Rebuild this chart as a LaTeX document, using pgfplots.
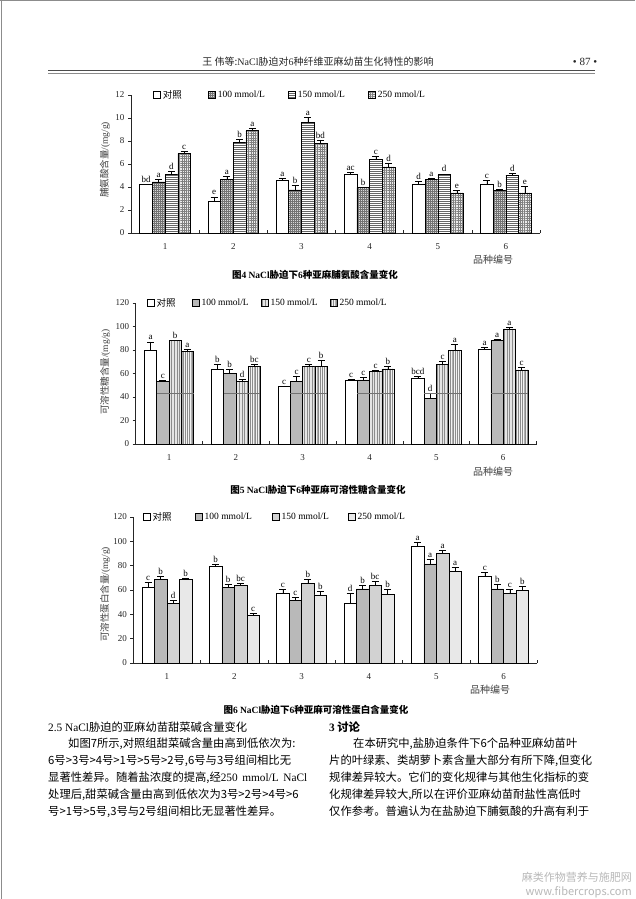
\documentclass[border=0pt]{standalone}
\usepackage{fontspec}
\setmainfont{Liberation Serif}
\newfontfamily\cjk{Noto Sans CJK SC}
\usepackage{pgfplots}
\usepackage{pgfplotstable}
\pgfplotsset{compat=1.18}
\usetikzlibrary{patterns.meta}
\XeTeXlinebreaklocale "zh"
\XeTeXlinebreakskip=0pt plus 3pt minus 0.5pt

% Fig 4: proline (mg/g)
\pgfplotstableread{
x   c1   e1   l1  c2   e2   l2 c3   e3   l3 c4   e4   l4
0.5 4.2  0.02 bd  4.45 0.2  a  5.1  0.3  d  6.9  0.2  c
1.5 2.8  0.35 e   4.65 0.25 a  7.9  0.25 b  8.9  0.2  a
2.5 4.55 0.2  a   3.75 0.4  b  9.6  0.5  a  7.8  0.3  bd
3.5 5.15 0.15 ac  3.95 0.05 b  6.4  0.3  c  5.75 0.35 d
4.5 4.2  0.3  d   4.65 0.15 a  5.1  0.05 d  3.5  0.2  e
5.5 4.25 0.3  c   3.7  0.1  b  5.05 0.15 d  3.5  0.55 e
}\tA
% Fig 5: soluble sugar (mg/g)
\pgfplotstableread{
x   c1   e1  l1  c2   e2  l2 c3   e3  l3 c4  e4  l4
0.5 80   7   a   53   1   c  88   0.3 b  79  1.5 a
1.5 64   3.5 b   60   4   b  53   2   d  66  1.5 bc
2.5 49   0.5 c   53   5   c  66   2   c  66  5   b
3.5 54   1   c   54.5 2   c  62   1   c  64  2.5 b
4.5 56   2   bcd 39   4.5 d  67.5 3   c  80  4.5 a
5.5 80.5 2   a   88   1.5 a  98   1   a  63  2   c
}\tB
% Fig 6: soluble protein (mg/g)
\pgfplotstableread{
x   c1   e1  l1 c2   e2  l2 c3   e3  l3 c4   e4  l4
0.5 62.5 3.5 c  69   2.5 b  48.8 2.5 d  68.5 1.5 b
1.5 79.5 2   b  62   3   b  63.5 2   bc 39   2   c
2.5 57   3.5 c  51.5 2.5 c  65.5 3.5 b  56   3   b
3.5 49.5 7.5 d  61   3   b  63.5 3.5 bc 56.5 4   b
4.5 96   3.5 a  81.5 3.5 a  90   2.5 a  75.5 3   a
5.5 71   3.5 c  61   4   b  57.5 3.5 c  60   3   b
}\tC

\pgfplotsset{
 pagechart/.style={
  scale only axis, anchor=south west, clip=false,
  axis x line*=bottom, axis y line*=left,
  axis line style={line width=0.7pt, black!85},
  ybar=0pt, xmin=0, xmax=6, ymin=0, enlargelimits=false,
  xtick={0,...,6}, x tick label as interval, xticklabels={1,2,3,4,5,6},
  tick align=outside, major tick length=3pt,
  xtick style={yshift=3pt, black!85, line width=0.6pt},
  ytick style={black!85, line width=0.6pt},
  tick label style={font=\fontsize{9}{9}\selectfont, black!85},
  xticklabel style={yshift=-4pt},
  /pgf/number format/assume math mode=true,
  legend style={draw=none, fill=none, legend columns=4, anchor=west,
    font=\fontsize{9.5}{10}\selectfont, column sep=0pt, row sep=0pt, inner sep=0pt,
    nodes={inner xsep=2pt, inner ysep=0pt}},
  legend cell align=left,
  ylabel style={anchor=center, font=\cjk\fontsize{9.5}{10}\selectfont, black!75},
 },
 sq/.style={legend image code/.code={\draw[##1] (0pt,-3.5pt) rectangle (7pt,3.5pt);}},
 eb/.style={error bars/.cd, y dir=plus, y explicit,
   error bar style={black, line width=0.5pt},
   error mark options={rotate=90, mark size=3.5pt, black, line width=0.5pt}},
 lab/.style={draw=none, fill=none, forget plot, nodes near coords, point meta=explicit symbolic,
   every node near coord/.append style={font=\fontsize{9}{9}\selectfont, inner sep=1.5pt, black}},
}

\newcommand\bars[3]{%
 \addplot[s1, sq, bar shift=-#3, eb] table[x=x, y=c1, y error=e1]{#1};
 \addplot[s2, sq, bar shift=-#2, eb] table[x=x, y=c2, y error=e2]{#1};
 \addplot[s3, sq, bar shift=#2, eb] table[x=x, y=c3, y error=e3]{#1};
 \addplot[s4, sq, bar shift=#3, eb] table[x=x, y=c4, y error=e4]{#1};
 \addplot[lab, bar shift=-#3] table[x=x, y expr=\thisrow{c1}+\thisrow{e1}, meta=l1]{#1};
 \addplot[lab, bar shift=-#2] table[x=x, y expr=\thisrow{c2}+\thisrow{e2}, meta=l2]{#1};
 \addplot[lab, bar shift=#2] table[x=x, y expr=\thisrow{c3}+\thisrow{e3}, meta=l3]{#1};
 \addplot[lab, bar shift=#3] table[x=x, y expr=\thisrow{c4}+\thisrow{e4}, meta=l4]{#1};
}

\newcommand\bodyfont{\cjk\fontsize{11.3}{17}\selectfont}
% one justified line of body text, never broken
\newcommand\jline[4]{\node[anchor=base west, inner sep=0pt, font=\bodyfont] at (#1pt,-#2pt) {\hbox to #3pt{#4}};}

\begin{document}
\begin{tikzpicture}
\path[use as bounding box, fill=white] (0pt,0pt) rectangle (635pt,-899pt);
\draw[black!45, line width=1pt] (0pt,-0.5pt) -- (635pt,-0.5pt);
\draw[black!45, line width=1pt] (1.5pt,0pt) -- (1.5pt,-899pt);

% header
\node[font=\cjk\fontsize{10}{10}\selectfont, text=black!85] at (318pt,-62pt)
  {王\ 伟等:{\rmfamily NaCl}胁迫对{\rmfamily 6}种纤维亚麻幼苗生化特性的影响};
\node[font=\fontsize{11}{11}\selectfont, text=black!85] at (585pt,-62pt) {• 87 •};
\draw[black!70, line width=1.3pt] (48pt,-70.5pt) -- (595pt,-70.5pt);
\draw[black!45, line width=0.6pt] (48pt,-73.2pt) -- (595pt,-73.2pt);

% ---------- Fig 4 ----------
\begin{axis}[pagechart, at={(131pt,-233pt)}, width=409pt, height=138pt,
  ymax=12, ytick={0,2,...,12}, bar width=12.7pt,
  ylabel={脯氨酸含量{\rmfamily /(mg/g)}},
  ylabel style={at={(axis description cs:-0.064,0.53)}},
  legend style={at={(axis description cs:0.054,1)}},
  legend entries={{\makebox[43.5pt][l]{\cjk 对照}},{\makebox[68.5pt][l]{100 mmol/L}},{\makebox[68.5pt][l]{150 mmol/L}},{250 mmol/L}},
  s1/.style={fill=white, draw=black, line width=0.5pt},
  s2/.style={fill=gray!30, draw=black, line width=0.5pt, postaction={pattern color=black!55, pattern={Hatch[angle=0,distance=2pt,line width=0.3pt]}}},
  s3/.style={fill=white, draw=black, line width=0.5pt, postaction={pattern color=black!60, pattern={Lines[angle=0,distance=2pt,line width=0.35pt]}}},
  s4/.style={fill=gray!15, draw=black, line width=0.5pt, postaction={pattern color=black!50, pattern={Hatch[angle=0,distance=2.3pt,line width=0.3pt]}}},
]
\bars{\tA}{6.35pt}{19.05pt}
\end{axis}
\node[font=\cjk\fontsize{10}{10}\selectfont, text=black!75] at (493pt,-260pt) {品种编号};
\node[font=\cjk\bfseries\fontsize{9.5}{10}\selectfont] at (315pt,-275pt)
  {图{\rmfamily 4 NaCl}胁迫下{\rmfamily 6}种亚麻脯氨酸含量变化};

% ---------- Fig 5 ----------
\begin{axis}[pagechart, at={(135.6pt,-444pt)}, width=401pt, height=141pt,
  ymax=120, ytick={0,20,...,120}, bar width=12.3pt,
  ylabel={可溶性糖含量{\rmfamily /(mg/g)}},
  ylabel style={at={(axis description cs:-0.076,0.51)}},
  legend style={at={(axis description cs:0.028,1)}},
  legend entries={{\makebox[33.5pt][l]{\cjk 对照}},{\makebox[57.5pt][l]{100 mmol/L}},{\makebox[57.5pt][l]{150 mmol/L}},{250 mmol/L}},
  s1/.style={fill=white, draw=black, line width=0.5pt},
  s2/.style={fill=gray!55, draw=black, line width=0.5pt},
  s3/.style={fill=gray!20, draw=black, line width=0.5pt, postaction={pattern color=black!45, pattern={Lines[angle=90,distance=2.6pt,line width=0.3pt]}}},
  s4/.style={fill=gray!10, draw=black, line width=0.5pt, postaction={pattern color=black!45, pattern={Lines[angle=90,distance=1.8pt,line width=0.3pt]}}},
]
\bars{\tB}{6.15pt}{18.45pt}
\addplot[forget plot, sharp plot, black!55, line width=0.4pt, mark=none, unbounded coords=jump]
  coordinates {(0.316,43) (0.868,43) (1,nan) (1.316,43) (1.868,43) (2,nan) (2.316,43) (2.868,43) (3,nan)
               (3.316,43) (3.868,43) (4,nan) (4.316,43) (4.868,43) (5,nan) (5.316,43) (5.868,43)};
\end{axis}
\node[font=\cjk\fontsize{10}{10}\selectfont, text=black!75] at (493pt,-472pt) {品种编号};
\node[font=\cjk\bfseries\fontsize{9.5}{10}\selectfont] at (318pt,-490pt)
  {图{\rmfamily 5 NaCl}胁迫下{\rmfamily 6}种亚麻可溶性糖含量变化};

% ---------- Fig 6 ----------
\begin{axis}[pagechart, at={(133.3pt,-663pt)}, width=404pt, height=146pt,
  ymax=120, ytick={0,20,...,120}, bar width=12.5pt,
  ylabel={可溶性蛋白含量{\rmfamily /(mg/g)}},
  ylabel style={at={(axis description cs:-0.070,0.47)}},
  legend style={at={(axis description cs:0.024,1)}},
  legend entries={{\makebox[40.5pt][l]{\cjk 对照}},{\makebox[65.5pt][l]{100 mmol/L}},{\makebox[64.5pt][l]{150 mmol/L}},{250 mmol/L}},
  s1/.style={fill=white, draw=black, line width=0.5pt},
  s2/.style={fill=gray!55, draw=black, line width=0.5pt},
  s3/.style={fill=gray!35, draw=black, line width=0.5pt},
  s4/.style={fill=gray!18, draw=black, line width=0.5pt},
]
\bars{\tC}{6.25pt}{18.75pt}
\end{axis}
\node[font=\cjk\fontsize{10}{10}\selectfont, text=black!75] at (490pt,-690pt) {品种编号};
\node[font=\cjk\bfseries\fontsize{9.5}{10}\selectfont] at (316pt,-710pt)
  {图{\rmfamily 6 NaCl}胁迫下{\rmfamily 6}种亚麻可溶性蛋白含量变化};

% ---------- body text, left column ----------
\node[anchor=base west, inner sep=0pt, font=\bodyfont] at (48pt,-731pt)
  {{\rmfamily 2.5 NaCl}胁迫的亚麻幼苗甜菜碱含量变化};
\jline{68}{747}{239}{如图7所示,对照组甜菜碱含量由高到低依次为:}
\jline{48}{764}{259}{6号>3号>4号>1号>5号>2号,6号与3号组间相比无}
\jline{48}{781}{259}{显著性差异。随着盐浓度的提高,经{\rmfamily 250 mmol/L NaCl}}
\jline{48}{798}{259}{处理后,甜菜碱含量由高到低依次为3号>2号>4号>6}
\node[anchor=base west, inner sep=0pt, font=\bodyfont] at (48pt,-815pt)
  {号>1号>5号,3号与2号组间相比无显著性差异。};

% ---------- body text, right column ----------
\node[anchor=base west, inner sep=0pt, font=\bodyfont\bfseries] at (329pt,-731pt) {{\rmfamily\bfseries 3} 讨论};
\jline{353}{747}{235}{在本研究中,盐胁迫条件下6个品种亚麻幼苗叶}
\jline{329}{764}{259}{片的叶绿素、类胡萝卜素含量大部分有所下降,但变化}
\jline{329}{781}{259}{规律差异较大。它们的变化规律与其他生化指标的变}
\jline{329}{798}{259}{化规律差异较大,所以在评价亚麻幼苗耐盐性高低时}
\jline{329}{815}{259}{仅作参考。普遍认为在盐胁迫下脯氨酸的升高有利于}

% watermark
\node[anchor=east, inner sep=0pt, text=black!28, font=\cjk\fontsize{11}{11}\selectfont] at (632pt,-877pt) {麻类作物营养与施肥网};
\node[anchor=east, inner sep=0pt, text=black!28, font=\cjk\fontsize{11}{11}\selectfont] at (632pt,-892pt) {www.fibercrops.com};
\end{tikzpicture}
\end{document}
